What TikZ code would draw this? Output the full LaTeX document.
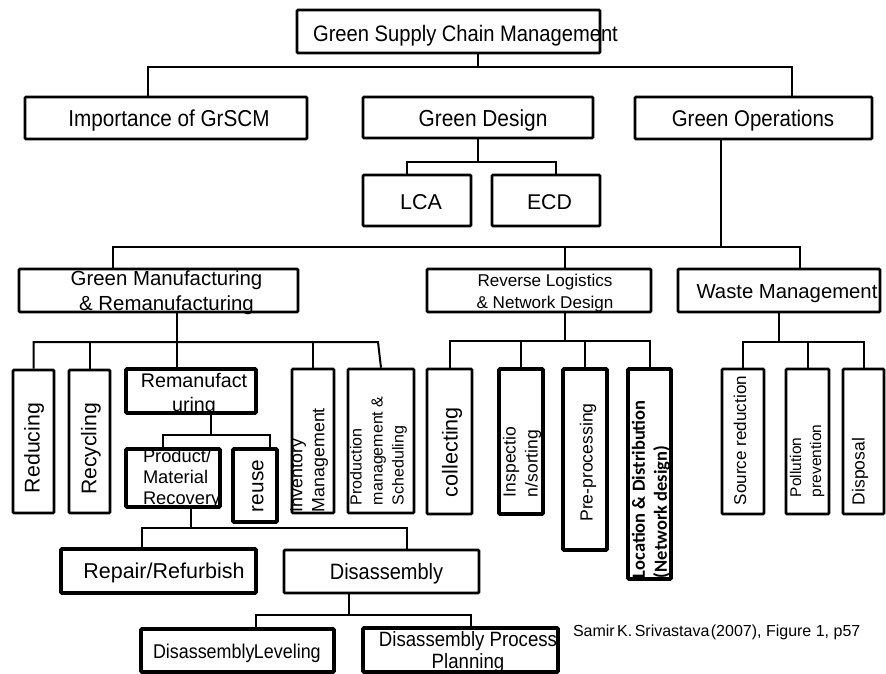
\documentclass[tikz,border=0pt]{standalone}
\usepackage{fontspec}
\setmainfont{Liberation Sans}
\newfontfamily\condfont{Liberation Sans}[FakeStretch=0.9]
\newfontfamily\carlitofont{Carlito}
\usetikzlibrary{fit}
\newcommand\fsz[2]{\fontsize{#1}{#2}\selectfont}
\begin{document}
\begin{tikzpicture}[x=1pt,y=-1pt,
  box/.style={draw, line width=2.6pt, inner sep=0pt, rounded corners=1pt},
  tbox/.style={box, line width=3.8pt},
  conn/.style={line width=2pt},
  lbl/.style={inner sep=0pt, outer sep=0pt},
  vlbl/.style={lbl, rotate=90},
]
\useasboundingbox (0,0) rectangle (886,673);

% ---------- boxes ----------
\node[box,  fit={(297,10)(600,53)}]   (gscm) {};
\node[box,  fit={(25,97)(307,139)}]   (imp) {};
\node[box,  fit={(363,97)(593,138)}]  (gd) {};
\node[box,  fit={(635,97)(872,139)}]  (gop) {};
\node[box,  fit={(363,175)(471,226)}] (lca) {};
\node[box,  fit={(492,175)(600,226)}] (ecd) {};
\node[box,  fit={(19,269)(298,312)}]  (gmr) {};
\node[box,  fit={(427,269)(651,312)}] (rl) {};
\node[box,  fit={(678,269)(880,312)}] (wm) {};
\node[box,  fit={(13,370)(54,513)}]   (red) {};
\node[box,  fit={(69,370)(110,513)}]  (rec) {};
\node[tbox, fit={(126,369)(256,413)}] (reman) {};
\node[tbox, fit={(126,449)(220,507)}] (prod) {};
\node[tbox, fit={(233,449)(277,522)}] (reuse) {};
\node[box,  fit={(292,369)(334,513)}] (inv) {};
\node[box,  fit={(348,369)(414,513)}] (pms) {};
\node[box,  fit={(427,369)(472,514)}] (col) {};
\node[tbox, fit={(499,369)(543,514)}] (insp) {};
\node[tbox, fit={(563,369)(607,550)}] (pre) {};
\node[tbox, fit={(628,369)(671,579)}] (loc) {};
\node[box,  fit={(722,369)(764,514)}] (src) {};
\node[box,  fit={(786,369)(829,514)}] (pol) {};
\node[box,  fit={(843,369)(884,514)}] (dis) {};
\node[tbox, fit={(61,549)(256,593)}]  (rep) {};
\node[box,  fit={(284,550)(479,593)}] (dsa) {};
\node[tbox, fit={(141,629)(334,672)}] (dl) {};
\node[tbox, fit={(363,628)(558,672)}] (dpp) {};

% ---------- bus coordinates ----------
\coordinate (b1L) at (148,67);
\coordinate (b1R) at (792,67);
\coordinate (gdL) at (407,162);
\coordinate (gdR) at (556,162);
\coordinate (goX) at (721,247);
\coordinate (b2L) at (113,247);
\coordinate (b2M) at (565,247);
\coordinate (b2R) at (800,247);
\coordinate (gmX) at (177,342);
\coordinate (gmR) at (378,342);
\coordinate (rmX) at (211,435);
\coordinate (rmL) at (163,435);
\coordinate (rmR) at (270,435);
\coordinate (pX)  at (191,528);
\coordinate (pL)  at (142,528);
\coordinate (pR)  at (407,528);
\coordinate (dX)  at (349,615);
\coordinate (dL)  at (256,615);
\coordinate (dR)  at (471,615);
\coordinate (rlX) at (565,341);
\coordinate (wmY) at (779,342);

% ---------- connectors ----------
\draw[conn] (gd.north |- gscm.south) -- (gd.north |- b1L);
\draw[conn] (b1L |- imp.north) -- (b1L) -- (b1R) -- (b1R |- gop.north);
\draw[conn] (gd.south) -- (gd.south |- gdL);
\draw[conn] (gdL |- lca.north) -- (gdL) -- (gdR) -- (gdR |- ecd.north);
\draw[conn] (goX |- gop.south) -- (goX);
\draw[conn] (b2L |- gmr.north) -- (b2L) -- (b2R) -- (b2R |- wm.north);
\draw[conn] (b2M) -- (b2M |- rl.north);
\draw[conn] (gmX |- gmr.south) -- (gmX |- reman.north);
\draw[conn] (red.north) |- (gmR) -- (pms.north);
\draw[conn] (rec.north) -- (rec.north |- gmX);
\draw[conn] (inv.north) -- (inv.north |- gmX);
\draw[conn] (rmX |- reman.south) -- (rmX);
\draw[conn] (rmL |- prod.north) -- (rmL) -- (rmR) -- (rmR |- reuse.north);
\draw[conn] (pX |- prod.south) -- (pX);
\draw[conn] (pL |- rep.north) -- (pL) -- (pR) -- (pR |- dsa.north);
\draw[conn] (dX |- dsa.south) -- (dX);
\draw[conn] (dL |- dl.north) -- (dL) -- (dR) -- (dR |- dpp.north);
\draw[conn] (rlX |- rl.south) -- (rlX);
\draw[conn] (col.north) |- (loc.north |- rlX) -- (loc.north);
\draw[conn] (insp.north) -- (insp.north |- rlX);
\draw[conn] (pre.north) -- (pre.north |- rlX);
\draw[conn] (wm.south) -- (wmY);
\draw[conn] (src.north) |- (dis.north |- wmY) -- (dis.north);
\draw[conn] (pol.north) -- (pol.north |- wmY);

% ---------- labels ----------
\node[lbl, anchor=base, font=\condfont\fsz{22.4}{26}] (t-gscm) at (465.5,41) {Green Supply Chain Management};
\node[lbl, anchor=base, font=\condfont\fsz{23}{26}] (t-imp) at (169,126) {Importance of GrSCM};
\node[lbl, anchor=base, font=\condfont\fsz{23.2}{26}] (t-gd) at (483,126) {Green Design};
\node[lbl, anchor=base, font=\condfont\fsz{22.7}{26}] (t-gop) at (753,126) {Green Operations};
\node[lbl, anchor=base, font=\fsz{21.5}{24}] (t-lca) at (421,209) {LCA};
\node[lbl, anchor=base, font=\fsz{21.3}{24}] (t-ecd) at (549.5,209) {ECD};
\node[lbl, align=center, font=\fsz{20.4}{25}] (t-gmr) at (166.5,293.2) {Green Manufacturing\\\& Remanufacturing};
\node[lbl, align=center, font=\fsz{17.1}{22}] (t-rl) at (545,292.6) {Reverse Logistics\\\& Network Design};
\node[lbl, anchor=base, font=\fsz{20.3}{24}] (t-wm) at (787,298) {Waste Management};
\node[lbl, align=center, font=\fsz{19.7}{24}] (t-reman) at (194,394.9) {Remanufact\\uring};
\node[lbl, anchor=west, align=left, font=\fsz{18.3}{21}] (t-prod) at (143,479.2) {Product/\\Material\\Recovery};
\node[lbl, anchor=base, font=\fsz{21.5}{24}] (t-rep) at (164,578) {Repair/Refurbish};
\node[lbl, anchor=base, font=\condfont\fsz{22.2}{24}] (t-dsa) at (386.5,579) {Disassembly};
\node[lbl, anchor=base west, font=\condfont\fsz{19.9}{22}] (t-dl) at (153,658) {Disassembly\kern-5.5pt{} Leveling};
\node[lbl, align=center, font=\condfont\fsz{20.7}{22}] (t-dpp) at (468,652.5) {Disassembly Process\\Planning};
\node[lbl, anchor=base west, font=\fsz{16}{20}] (t-cite) at (573,636) {Samir\kern-2pt{} K.\kern-2pt{} Srivastava\kern-3pt{} (2007), Figure 1, p57};

% rotated labels
\node[vlbl, font=\fsz{21.3}{24}] (t-red) at (34,448) {Reducing};
\node[vlbl, font=\fsz{21.2}{24}] (t-rec) at (91,449) {Recycling};
\node[vlbl, font=\fsz{20.8}{24}] (t-reuse) at (258,486) {reuse};
\node[vlbl, anchor=west, align=left, font=\fsz{17.8}{22}] (t-inv) at (309,512) {Inventory\\Management};
\node[vlbl, anchor=west, align=left, font=\fsz{16}{21}] (t-pms) at (378.5,505) {Production\\management \&\\Scheduling};
\node[vlbl, font=\fsz{21.6}{24}] (t-col) at (452,452) {collecting};
\node[vlbl, anchor=west, align=left, font=\fsz{17.5}{22}] (t-insp) at (522,497) {Inspectio\\n/sorting};
\node[vlbl, font=\fsz{17.6}{22}] (t-pre) at (588,462.5) {Pre-processing};
\node[vlbl, anchor=west, align=left, font=\carlitofont\bfseries\fsz{18.5}{22}] (t-loc) at (651,578) {Location \& Distribution\\(Network design)};
\node[vlbl, font=\fsz{17.1}{22}] (t-src) at (740,440.5) {Source reduction};
\node[vlbl, anchor=west, align=left, font=\fsz{15.5}{20}] (t-pol) at (807,497) {Pollution\\prevention};
\node[vlbl, font=\fsz{17.5}{22}] (t-dis) at (860,471.5) {Disposal};
\end{tikzpicture}
\end{document}
